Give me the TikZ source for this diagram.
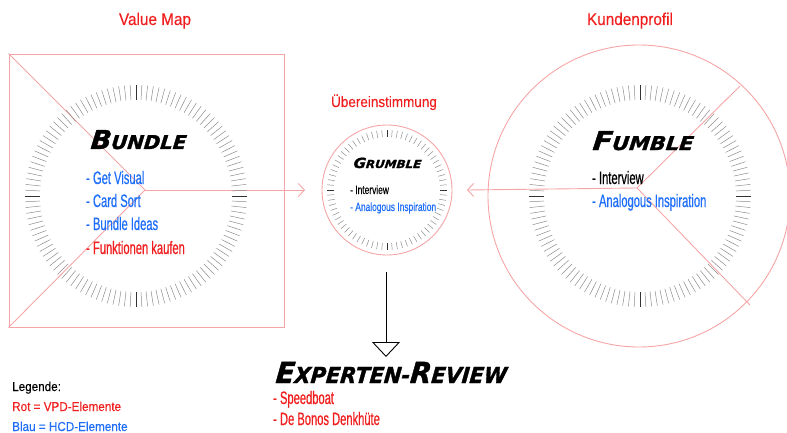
\documentclass[tikz,border=0pt]{standalone}
\usepackage{fontspec}
\usepackage{graphicx}
\setmainfont{Liberation Sans}
\newfontfamily\condfont[FakeStretch=0.62, FakeBold=0.6]{Liberation Sans}
\newfontfamily\condfontb[FakeStretch=0.7, FakeBold=0.4]{Liberation Sans}
\newfontfamily\labfont[FakeStretch=0.9, FakeBold=0.3]{Liberation Sans}
\newfontfamily\headfont[FakeBold=1.5, FakeSlant=0.1]{DejaVu Sans}
\usetikzlibrary{arrows.meta}
\definecolor{vred}{RGB}{240,30,30}
\definecolor{hblue}{RGB}{30,110,250}
\definecolor{pinkline}{RGB}{245,165,165}
\newcommand{\hdword}[5]{\scalebox{#5}[1]{\headfont\bfseries\itshape\fontsize{#3}{#3}\selectfont #1\fontsize{#4}{#4}\selectfont #2}}
\tikzset{
  pinkstroke/.style={draw=pinkline, line width=0.9pt},
  pinkarrow/.style={pinkstroke, -{Straight Barb[length=6pt,width=13pt]}},
  tickmark/.style={draw=black!45, line width=0.5pt},
  majortick/.style={draw=black!80, line width=0.8pt},
  bigitem/.style={inner sep=0pt, anchor=base west, font=\condfont\fontsize{18}{18}\selectfont},
  smallitem/.style={inner sep=0pt, anchor=base west, font=\condfontb\fontsize{12}{12}\selectfont},
  headnode/.style={inner sep=0pt, anchor=base west},
  labelnode/.style={inner sep=0pt, anchor=base, text=vred, font=\labfont\fontsize{17}{17}\selectfont},
  legendnode/.style={inner sep=0pt, anchor=base west, font=\labfont\fontsize{13}{13}\selectfont},
}
\begin{document}
\begin{tikzpicture}[x=1pt,y=-1pt]
\useasboundingbox (0,0) rectangle (787,433);
% ---- titles
\node[labelnode] (vmap) at (155,25) {Value Map};
\node[labelnode] (kprof) at (630,25) {Kundenprofil};
\node[labelnode, font=\labfont\fontsize{15}{15}\selectfont] (uebe) at (384,107) {Übereinstimmung};
% ---- Value map square
\node[pinkstroke, minimum width=275pt, minimum height=273pt, inner sep=0pt] (sq) at (146.5,190.5) {};
\coordinate (bc) at (145,190);
\draw[pinkstroke] (sq.north west) -- (bc);
\draw[pinkstroke] (sq.south west) -- (bc);
\coordinate (arrL) at (305,190);
\draw[pinkarrow] (bc) -- (arrL);
\begin{scope}[shift={(136,196)}]
\foreach \a in {0,3,...,357} \draw[tickmark] (\a:96) -- (\a:111);
\foreach \a in {0,90,180,270} \draw[majortick] (\a:96) -- (\a:111);
\end{scope}
\node[headnode] (bundle) at (90,149) {\hdword{B}{UNDLE}{26}{19}{1.04}};
\node[bigitem, text=hblue] (b1) at (86,184) {- Get Visual};
\node[bigitem, text=hblue] (b2) at (86,207) {- Card Sort};
\node[bigitem, text=hblue] (b3) at (86,230) {- Bundle Ideas};
\node[bigitem, text=vred] (b4) at (86,254) {- Funktionen kaufen};
% ---- Kundenprofil circle
\node[pinkstroke, circle, minimum size=302pt, inner sep=0pt] (kc) at (639,196) {};
\coordinate (fc) at (637,188);
\coordinate (fu) at (740,86);
\coordinate (fl) at (750,305);
\draw[pinkstroke] (fc) -- (fu);
\draw[pinkstroke] (fc) -- (fl);
\coordinate (arrR) at (467,190);
\draw[pinkarrow] (fc) -- (arrR);
\begin{scope}[shift={(640,196)}]
\foreach \a in {0,3,...,357} \draw[tickmark] (\a:96) -- (\a:111);
\foreach \a in {0,90,180,270} \draw[majortick] (\a:96) -- (\a:111);
\end{scope}
\node[headnode] (fumble) at (592,150) {\hdword{F}{UMBLE}{26}{19}{1.1}};
\node[bigitem, text=black] (f1) at (592,184) {- Interview};
\node[bigitem, text=hblue] (f2) at (592,207) {- Analogous Inspiration};
% ---- Middle circle
\node[pinkstroke, circle, minimum size=130pt, inner sep=0pt] (gc) at (387,190) {};
\begin{scope}[shift={(387,190)}]
\foreach \a in {0,5,...,355} \draw[tickmark] (\a:53) -- (\a:60);
\foreach \a in {0,90,180,270} \draw[majortick] (\a:53) -- (\a:60);
\end{scope}
\node[headnode] (grumble) at (353,168) {\hdword{G}{RUMBLE}{14}{11}{1.08}};
\node[smallitem, text=black] (g1) at (350,194) {- Interview};
\node[smallitem, text=hblue] (g2) at (350,211) {- Analogous Inspiration};
% ---- down arrow
\coordinate (dtop) at (386,272);
\coordinate (dbot) at (386,357);
\draw[line width=0.9pt, -{Triangle[open, length=15pt, width=28pt, line width=0.9pt]}] (dtop) -- (dbot);
% ---- Experten-Review
\node[headnode] (exp) at (275,383) {\hdword{E}{XPERTEN-}{29}{22}{0.95}\hdword{R}{EVIEW}{29}{22}{0.95}};
\node[bigitem, text=vred] (e1) at (273,404) {- Speedboat};
\node[bigitem, text=vred] (e2) at (273,425) {- De Bonos Denkhüte};
% ---- legend
\node[legendnode, text=black] (l1) at (12,391) {Legende:};
\node[legendnode, text=vred] (l2) at (12,411) {Rot = VPD-Elemente};
\node[legendnode, text=hblue] (l3) at (12,431) {Blau = HCD-Elemente};
\end{tikzpicture}
\end{document}
